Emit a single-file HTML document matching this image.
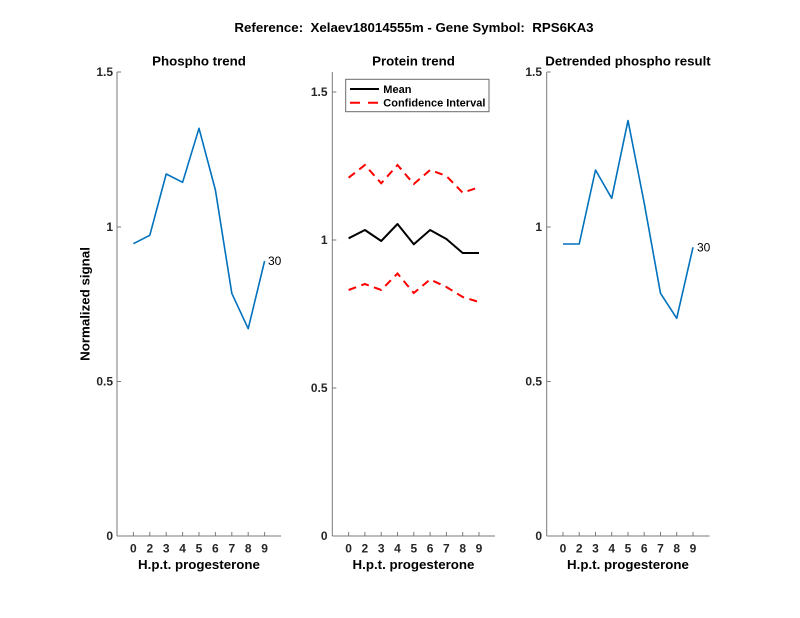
<!DOCTYPE html>
<html>
<head>
<meta charset="utf-8">
<style>
html,body{margin:0;padding:0;background:#fff;}
svg{display:block;}
text{font-family:"Liberation Sans",Arial,sans-serif;}
.t{font-weight:bold;font-size:13.3px;fill:#000;}
.tk{font-weight:bold;font-size:12px;fill:#262626;}
.lg{font-weight:bold;font-size:11px;fill:#000;}
</style>
</head>
<body>
<svg width="800" height="618" viewBox="0 0 800 618" xmlns="http://www.w3.org/2000/svg">
<rect width="800" height="618" fill="#fff"/>

<!-- Main title -->
<text class="t" x="414" y="32" text-anchor="middle" xml:space="preserve" style="white-space:pre">Reference:  Xelaev18014555m - Gene Symbol:  RPS6KA3</text>

<!-- ===== Left axes ===== -->
<text class="t" x="199" y="65.5" text-anchor="middle">Phospho trend</text>
<g stroke="#7a7a7a" stroke-width="1" fill="none">
  <line x1="117" y1="72" x2="117" y2="536"/>
  <line x1="117" y1="536" x2="281" y2="536"/>
  <line x1="117" y1="72" x2="121" y2="72"/>
  <line x1="117" y1="227" x2="121" y2="227"/>
  <line x1="117" y1="381.5" x2="121" y2="381.5"/>
  <line x1="133.4" y1="536" x2="133.4" y2="532"/>
  <line x1="149.8" y1="536" x2="149.8" y2="532"/>
  <line x1="166.2" y1="536" x2="166.2" y2="532"/>
  <line x1="182.6" y1="536" x2="182.6" y2="532"/>
  <line x1="199" y1="536" x2="199" y2="532"/>
  <line x1="215.4" y1="536" x2="215.4" y2="532"/>
  <line x1="231.8" y1="536" x2="231.8" y2="532"/>
  <line x1="248.2" y1="536" x2="248.2" y2="532"/>
  <line x1="264.6" y1="536" x2="264.6" y2="532"/>
</g>
<g class="tk" text-anchor="end">
  <text x="113" y="76">1.5</text>
  <text x="113" y="231">1</text>
  <text x="113" y="385.5">0.5</text>
  <text x="113" y="540">0</text>
</g>
<g class="tk" text-anchor="middle">
  <text x="133.4" y="552.5">0</text>
  <text x="149.8" y="552.5">2</text>
  <text x="166.2" y="552.5">3</text>
  <text x="182.6" y="552.5">4</text>
  <text x="199" y="552.5">5</text>
  <text x="215.4" y="552.5">6</text>
  <text x="231.8" y="552.5">7</text>
  <text x="248.2" y="552.5">8</text>
  <text x="264.6" y="552.5">9</text>
</g>
<text class="t" x="199" y="569" text-anchor="middle">H.p.t. progesterone</text>
<text class="t" x="89.5" y="304" text-anchor="middle" transform="rotate(-90 89.5 304)">Normalized signal</text>
<polyline fill="none" stroke="#0072BD" stroke-width="1.6" stroke-linejoin="round"
  points="133.4,243.7 149.8,235.3 166.2,174 182.6,182.3 199,128.3 215.4,190 231.8,293.3 248.2,328.7 264.6,261"/>
<text x="268" y="265" font-size="12" fill="#000">30</text>

<!-- ===== Middle axes ===== -->
<text class="t" x="413.5" y="65.5" text-anchor="middle">Protein trend</text>
<g stroke="#7a7a7a" stroke-width="1" fill="none">
  <line x1="332.3" y1="72" x2="332.3" y2="536"/>
  <line x1="332.3" y1="536" x2="495" y2="536"/>
  <line x1="332.3" y1="92" x2="336.3" y2="92"/>
  <line x1="332.3" y1="240" x2="336.3" y2="240"/>
  <line x1="332.3" y1="388" x2="336.3" y2="388"/>
  <line x1="348.6" y1="536" x2="348.6" y2="532"/>
  <line x1="364.9" y1="536" x2="364.9" y2="532"/>
  <line x1="381.2" y1="536" x2="381.2" y2="532"/>
  <line x1="397.5" y1="536" x2="397.5" y2="532"/>
  <line x1="413.8" y1="536" x2="413.8" y2="532"/>
  <line x1="430.1" y1="536" x2="430.1" y2="532"/>
  <line x1="446.4" y1="536" x2="446.4" y2="532"/>
  <line x1="462.7" y1="536" x2="462.7" y2="532"/>
  <line x1="479" y1="536" x2="479" y2="532"/>
</g>
<g class="tk" text-anchor="end">
  <text x="327.5" y="96">1.5</text>
  <text x="327.5" y="244">1</text>
  <text x="327.5" y="392">0.5</text>
  <text x="327.5" y="540">0</text>
</g>
<g class="tk" text-anchor="middle">
  <text x="348.6" y="552.5">0</text>
  <text x="364.9" y="552.5">2</text>
  <text x="381.2" y="552.5">3</text>
  <text x="397.5" y="552.5">4</text>
  <text x="413.8" y="552.5">5</text>
  <text x="430.1" y="552.5">6</text>
  <text x="446.4" y="552.5">7</text>
  <text x="462.7" y="552.5">8</text>
  <text x="479" y="552.5">9</text>
</g>
<text class="t" x="413.5" y="569" text-anchor="middle">H.p.t. progesterone</text>
<polyline fill="none" stroke="#ff0000" stroke-width="2" stroke-dasharray="8 5.5"
  points="348.6,177.7 364.9,165 381.2,183.3 397.5,165 413.8,184 430.1,170 446.4,176 462.7,192.7 479,187.3"/>
<polyline fill="none" stroke="#ff0000" stroke-width="2" stroke-dasharray="8 5.5"
  points="348.6,290 364.9,284 381.2,290 397.5,273.5 413.8,293 430.1,279.5 446.4,287 462.7,297 479,302"/>
<polyline fill="none" stroke="#000" stroke-width="2" stroke-linejoin="round"
  points="348.6,238.3 364.9,230 381.2,241 397.5,224 413.8,244.3 430.1,230 446.4,239 462.7,253 479,253"/>
<!-- Legend -->
<rect x="345.7" y="79.3" width="143.3" height="32.4" fill="#fff" stroke="#6a6a6a" stroke-width="1"/>
<line x1="350" y1="89" x2="379" y2="89" stroke="#000" stroke-width="2"/>
<text class="lg" x="383.3" y="93">Mean</text>
<line x1="350" y1="102.7" x2="379" y2="102.7" stroke="#ff0000" stroke-width="2" stroke-dasharray="10 8"/>
<text class="lg" x="383.3" y="106.7">Confidence Interval</text>

<!-- ===== Right axes ===== -->
<text class="t" x="628" y="65.5" text-anchor="middle">Detrended phospho result</text>
<g stroke="#7a7a7a" stroke-width="1" fill="none">
  <line x1="546.7" y1="72" x2="546.7" y2="536"/>
  <line x1="546.7" y1="536" x2="709.5" y2="536"/>
  <line x1="546.7" y1="72" x2="550.7" y2="72"/>
  <line x1="546.7" y1="227" x2="550.7" y2="227"/>
  <line x1="546.7" y1="381.5" x2="550.7" y2="381.5"/>
  <line x1="563" y1="536" x2="563" y2="532"/>
  <line x1="579.2" y1="536" x2="579.2" y2="532"/>
  <line x1="595.5" y1="536" x2="595.5" y2="532"/>
  <line x1="611.7" y1="536" x2="611.7" y2="532"/>
  <line x1="628" y1="536" x2="628" y2="532"/>
  <line x1="644.2" y1="536" x2="644.2" y2="532"/>
  <line x1="660.5" y1="536" x2="660.5" y2="532"/>
  <line x1="676.7" y1="536" x2="676.7" y2="532"/>
  <line x1="693" y1="536" x2="693" y2="532"/>
</g>
<g class="tk" text-anchor="end">
  <text x="542" y="76">1.5</text>
  <text x="542" y="231">1</text>
  <text x="542" y="385.5">0.5</text>
  <text x="542" y="540">0</text>
</g>
<g class="tk" text-anchor="middle">
  <text x="563" y="552.5">0</text>
  <text x="579.2" y="552.5">2</text>
  <text x="595.5" y="552.5">3</text>
  <text x="611.7" y="552.5">4</text>
  <text x="628" y="552.5">5</text>
  <text x="644.2" y="552.5">6</text>
  <text x="660.5" y="552.5">7</text>
  <text x="676.7" y="552.5">8</text>
  <text x="693" y="552.5">9</text>
</g>
<text class="t" x="628" y="569" text-anchor="middle">H.p.t. progesterone</text>
<polyline fill="none" stroke="#0072BD" stroke-width="1.6" stroke-linejoin="round"
  points="563,244 579.2,244 595.5,170 611.7,198.3 628,120.5 644.2,203 660.5,293.3 676.7,318.3 693,247.3"/>
<text x="697" y="251.5" font-size="12" fill="#000">30</text>
</svg>
</body>
</html>
